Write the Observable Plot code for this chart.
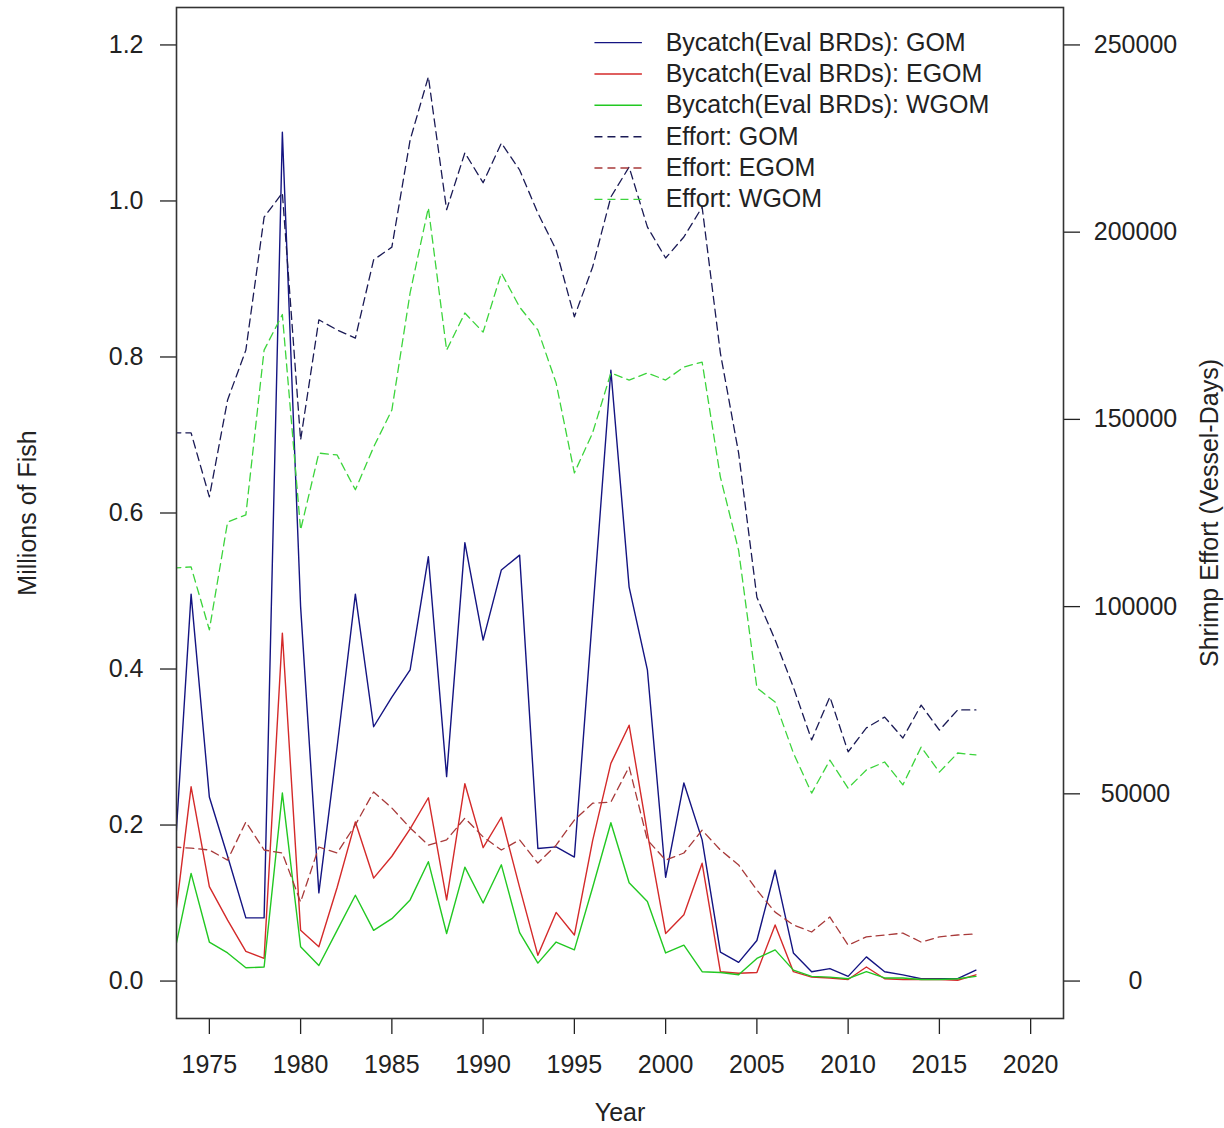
<!DOCTYPE html>
<html>
<head>
<meta charset="utf-8">
<script src="https://cdn.jsdelivr.net/npm/d3@7"></script>
<script src="https://cdn.jsdelivr.net/npm/@observablehq/plot@0.6"></script>
<style>
  html, body { margin: 0; padding: 0; background: #fff; }
  #chart { width: 1224px; height: 1128px; }
</style>
</head>
<body>
<div id="chart"></div>
<script>
// ---- data ----
const years = d3.range(1973, 2018);

const bycatchGOM = [0.12, 0.496, 0.236, 0.16, 0.081, 0.081, 1.088, 0.48, 0.113, 0.30,
  0.496, 0.326, 0.364, 0.399, 0.544, 0.262, 0.562, 0.437, 0.527, 0.546,
  0.170, 0.172, 0.159, 0.47, 0.783, 0.505, 0.399, 0.133, 0.254, 0.181,
  0.037, 0.024, 0.052, 0.142, 0.036, 0.012, 0.016, 0.006, 0.031, 0.012,
  0.008, 0.003, 0.003, 0.003, 0.014];

const bycatchEGOM = [0.056, 0.249, 0.121, 0.078, 0.038, 0.029, 0.446, 0.065, 0.044, 0.12,
  0.204, 0.132, 0.16, 0.195, 0.235, 0.104, 0.253, 0.171, 0.210, 0.12,
  0.033, 0.088, 0.059, 0.18, 0.279, 0.328, 0.19, 0.061, 0.085, 0.151,
  0.012, 0.010, 0.011, 0.072, 0.012, 0.005, 0.004, 0.002, 0.018, 0.003,
  0.002, 0.002, 0.002, 0.001, 0.008];

const bycatchWGOM = [0.027, 0.138, 0.050, 0.036, 0.017, 0.018, 0.241, 0.044, 0.020, 0.065,
  0.110, 0.065, 0.080, 0.104, 0.153, 0.061, 0.146, 0.100, 0.149, 0.062,
  0.023, 0.050, 0.040, 0.12, 0.203, 0.126, 0.102, 0.036, 0.046, 0.012,
  0.011, 0.008, 0.029, 0.040, 0.014, 0.006, 0.005, 0.003, 0.012, 0.004,
  0.004, 0.002, 0.002, 0.003, 0.006];

const effortGOM = [146400, 146400, 129300, 155200, 168500, 204000, 210500, 144500, 176600, 173900,
  171700, 192600, 196000, 224600, 241500, 206000, 221200, 213200, 223800, 216600,
  205100, 195300, 177400, 190700, 209400, 217400, 201400, 193100, 198700, 206700,
  167700, 141000, 102500, 91100, 78500, 64400, 75900, 61200, 67600, 70500,
  64900, 73700, 67000, 72400, 72400];

const effortEGOM = [35800, 35500, 35000, 32300, 42500, 35000, 34200, 21100, 35800, 34200,
  41700, 50500, 46200, 40900, 36300, 37700, 43500, 38500, 35000, 37700,
  31500, 36300, 43000, 47500, 47800, 57200, 37700, 32300, 34200, 40300,
  35000, 31000, 24300, 18400, 15000, 13100, 17100, 9600, 11800, 12300,
  12800, 10400, 11800, 12300, 12600];

const effortWGOM = [110300, 110600, 93800, 122600, 124500, 168500, 178000, 120500, 141000, 140500,
  131200, 142600, 152500, 183800, 206500, 168500, 178400, 173300, 189100, 180000,
  173900, 159700, 135700, 146400, 162400, 160500, 162400, 160500, 164000, 165300,
  134600, 115000, 78300, 74500, 60900, 50200, 59000, 51500, 56400, 58500,
  52400, 62500, 55800, 60900, 60400];

const xTicks = [1975, 1980, 1985, 1990, 1995, 2000, 2005, 2010, 2015, 2020];
const leftTicks = [0, 0.2, 0.4, 0.6, 0.8, 1.0, 1.2];
const rightTicks = [0, 50000, 100000, 150000, 200000, 250000];

const seriesNames = [
  "Bycatch(Eval BRDs): GOM",
  "Bycatch(Eval BRDs): EGOM",
  "Bycatch(Eval BRDs): WGOM",
  "Effort: GOM",
  "Effort: EGOM",
  "Effort: WGOM"
];
const seriesColors = ["#141482", "#d42a2a", "#22c822", "#1a1a55", "#a83a3a", "#3cd43c"];
const seriesDashed = [false, false, false, true, true, true];

// ---- build tidy table ----
const effortMax = 250000, leftMax = 1.2;           // right axis 250000 aligns with left 1.2
const toLeft = e => e * leftMax / effortMax;
const seriesValues = [bycatchGOM, bycatchEGOM, bycatchWGOM,
  effortGOM.map(toLeft), effortEGOM.map(toLeft), effortWGOM.map(toLeft)];

const rows = [];
seriesValues.forEach((vals, s) => vals.forEach((v, i) => rows.push({series: s, year: years[i], value: v})));

// legend placed in data space (top centre-right of the panel)
const legendRows = seriesNames.map((name, i) => ({
  i, name,
  x1: 1996.1, x2: 1998.7, xt: 2000.0,
  y: 1.203 - i * 0.0402
}));

const font = "'Liberation Sans', Arial, Helvetica, sans-serif";
const ink = "#222";

const marks = [];
seriesValues.forEach((vals, s) => {
  marks.push(Plot.line(rows.filter(r => r.series === s), {
    x: "year", y: "value",
    stroke: seriesColors[s],
    strokeWidth: seriesDashed[s] ? 1.3 : 1.4,
    strokeDasharray: seriesDashed[s] ? "8,5" : null,
    clip: true
  }));
});

// legend
legendRows.forEach(r => {
  marks.push(Plot.link([r], {
    x1: "x1", x2: "x2", y1: "y", y2: "y",
    stroke: seriesColors[r.i], strokeWidth: 1.4,
    strokeDasharray: seriesDashed[r.i] ? "8,5" : null
  }));
});
marks.push(Plot.text(legendRows, {
  x: "xt", y: "y", text: "name", textAnchor: "start", lineAnchor: "middle",
  fill: ink, fontSize: 25
}));

// axes
marks.push(Plot.axisX(xTicks, {
  anchor: "bottom", tickSize: 16, tickPadding: 21, tickFormat: d => String(d),
  stroke: ink, fill: ink, strokeWidth: 1.3, label: null
}));
marks.push(Plot.axisY(leftTicks, {
  anchor: "left", tickSize: 16, tickPadding: 17, tickFormat: d3.format(".1f"),
  stroke: ink, fill: ink, strokeWidth: 1.3, label: null
}));
marks.push(Plot.axisY(rightTicks.map(toLeft), {
  anchor: "right", tickSize: 16, tickPadding: 56, textAnchor: "middle",
  tickFormat: d => String(Math.round(d * effortMax / leftMax)),
  stroke: ink, fill: ink, strokeWidth: 1.3, label: null
}));

// axis titles
marks.push(Plot.text(["Millions of Fish"], {
  frameAnchor: "left", dx: -149, rotate: -90, text: d => d,
  textAnchor: "middle", lineAnchor: "middle", fill: ink, fontSize: 25
}));
marks.push(Plot.text(["Shrimp Effort (Vessel-Days)"], {
  frameAnchor: "right", dx: 146, rotate: -90, text: d => d,
  textAnchor: "middle", lineAnchor: "middle", fill: ink, fontSize: 25
}));
marks.push(Plot.text(["Year"], {
  frameAnchor: "bottom", dy: 94, text: d => d,
  textAnchor: "middle", lineAnchor: "middle", fill: ink, fontSize: 25
}));

marks.push(Plot.frame({stroke: "#333", strokeWidth: 1.6}));

const chart = Plot.plot({
  width: 1224,
  height: 1128,
  marginLeft: 176,
  marginRight: 161,
  marginTop: 7,
  marginBottom: 110,
  style: {fontFamily: font, fontSize: "25px", color: ink, background: "#fff", overflow: "visible"},
  x: {type: "linear", domain: [1973.2, 2021.8], axis: null},
  y: {type: "linear", domain: [-0.048, 1.248], axis: null},
  marks
});

document.getElementById("chart").appendChild(chart);
</script>
</body>
</html>
